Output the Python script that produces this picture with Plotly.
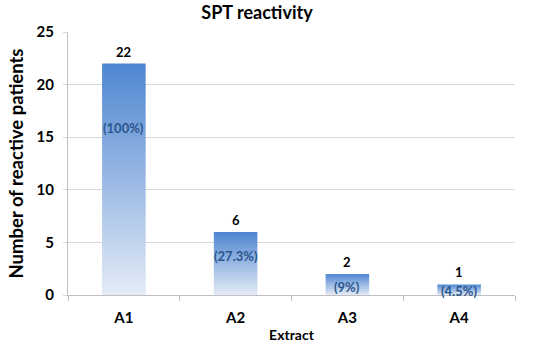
import plotly.graph_objects as go

categories = ["A1", "A2", "A3", "A4"]
patients = [22, 6, 2, 1]
percent_labels = ["(100%)", "(27.3%)", "(9%)", "(4.5%)"]

# layout-only helpers
BAR_WIDTH = 0.39
pct_label_y = [15.9, 3.7, 0.76, 0.38]
FONT = "Lato"

fig = go.Figure()
for i, (cat, v) in enumerate(zip(categories, patients)):
    x0, x1 = i - BAR_WIDTH / 2, i + BAR_WIDTH / 2
    fig.add_trace(go.Scatter(
        x=[x0, x1, x1, x0, x0], y=[0, 0, v, v, 0],
        mode="lines", line=dict(width=0), fill="toself",
        fillgradient=dict(type="vertical", start=0, stop=v,
                          colorscale=[[0, "#E4EBF6"], [1, "#4E86D1"]]),
        hoverinfo="skip", showlegend=False, name=cat))

# value labels above bars
for i, v in enumerate(patients):
    fig.add_annotation(x=i, y=v, text=f"<b>{v}</b>", showarrow=False,
                       yshift=12, yanchor="middle",
                       font=dict(family=FONT, size=13, color="#000000"))

# percentage labels inside bars
for i, (t, py) in enumerate(zip(percent_labels, pct_label_y)):
    fig.add_annotation(x=i, y=py, text=f"<b>{t}</b>", showarrow=False,
                       yanchor="middle",
                       font=dict(family=FONT, size=13, color="#2B568C"))

fig.update_layout(
    width=550, height=345,
    margin=dict(l=68, r=35, t=32, b=50, autoexpand=False),
    paper_bgcolor="white", plot_bgcolor="white",
    font=dict(family=FONT, color="#000000"),
    title=dict(text="<b>SPT reactivity</b>", x=257 / 550, xanchor="center",
               yref="container", y=1 - 13 / 345, yanchor="middle",
               font=dict(size=18, family=FONT), automargin=False),
    showlegend=False,
)
fig.update_xaxes(
    range=[-0.5, len(categories) - 0.5], automargin=False,
    tickmode="array", tickvals=list(range(len(categories))), ticktext=categories,
    ticks="", showgrid=False, zeroline=False,
    showline=True, linecolor="#BFBFBF", linewidth=1,
    tickfont=dict(size=15, family=FONT, weight="bold"),
    ticklabelstandoff=9,
    minor=dict(ticks="outside", tick0=-0.5, dtick=1, ticklen=5, tickcolor="#BFBFBF", showgrid=False),
    title=dict(text="<b>Extract</b>", font=dict(size=14, family=FONT), standoff=5),
    fixedrange=True,
)
fig.update_yaxes(
    range=[0, 25], tickvals=[0, 5, 10, 15, 20, 25], automargin=False,
    showgrid=True, gridcolor="#D9D9D9", gridwidth=1,
    zeroline=False, showline=True, linecolor="#BFBFBF", linewidth=1,
    ticks="outside", ticklen=4, tickcolor="#D9D9D9",
    tickfont=dict(size=15, family=FONT, weight="bold"),
    ticklabelstandoff=6,
    title=dict(text="<b>Number of reactive patients</b>", font=dict(size=18.5, family=FONT), standoff=8),
    fixedrange=True,
)

fig.write_html("out.html", config={"displayModeBar": False},
               post_script="document.body.style.margin='0';document.body.style.overflow='hidden';")
